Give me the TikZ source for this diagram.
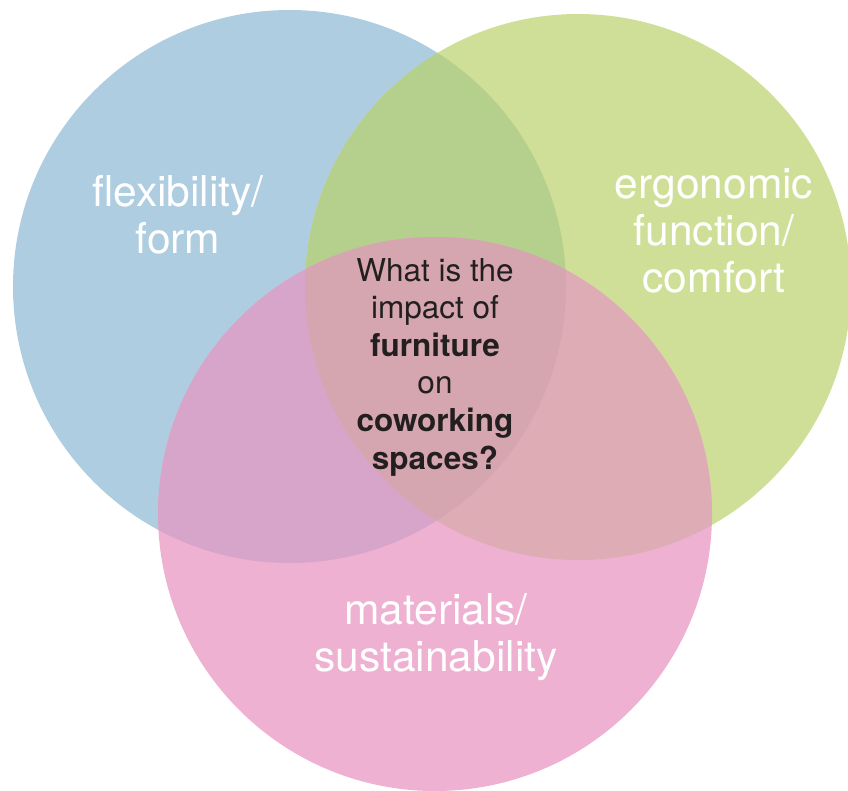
\documentclass[tikz,border=0pt]{standalone}
\usepackage{fontspec}
\setmainfont{TeX Gyre Heros}
\usepackage{tikz}
\definecolor{setblue}{HTML}{AECDE1}
\definecolor{setgreen}{HTML}{D0DF98}
\definecolor{setpink}{HTML}{EEB1D1}
\definecolor{bluegreen}{HTML}{B5D08C}
\definecolor{bluepink}{HTML}{D7A5C9}
\definecolor{greenpink}{HTML}{DEACB5}
\definecolor{allthree}{HTML}{D6A6B0}
\definecolor{darktext}{HTML}{231F20}
\newcommand{\blueset}{(289.5,286.5) circle (276.5)}
\newcommand{\greenset}{(578,287) circle (273)}
\newcommand{\pinkset}{(435,514) circle (277)}
\tikzset{
	outer/.style={align=center, text=white, font=\fontsize{42.5}{47}\selectfont},
	core/.style={align=center, text=darktext, font=\fontsize{31.5}{37.6}\selectfont}
}

\begin{document}
\begin{tikzpicture}[x=1pt,y=-1pt]
	\useasboundingbox (0,0) rectangle (848,790);
	\begin{scope}
	\clip (0,0) rectangle (848,790);

	% the three sets
	\fill[setblue] \blueset;
	\fill[setgreen] \greenset;
	\fill[setpink] \pinkset;

	% pairwise overlaps
	\begin{scope}
	\clip \blueset;
	\fill[bluegreen] \greenset;
	\fill[bluepink] \pinkset;
	\end{scope}
	\begin{scope}
	\clip \greenset;
	\fill[greenpink] \pinkset;
	\end{scope}

	% middle region
	\begin{scope}
	\clip \blueset;
	\clip \greenset;
	\fill[allthree] \pinkset;
	\end{scope}
	\end{scope}

	\node[outer] (flex) at (178,214.5) {flexibility/\\form};
	\node[outer] (ergo) at (714,231) {ergonomic\\function/\\comfort};
	\node[outer] (mat) at (436,637) {materials/\\sustainability};
	\node[core] (question) at (435,367)
		{What is the\\impact of\\\textbf{furniture}\\on\\\textbf{coworking}\\\textbf{spaces?}};
\end{tikzpicture}
\end{document}
